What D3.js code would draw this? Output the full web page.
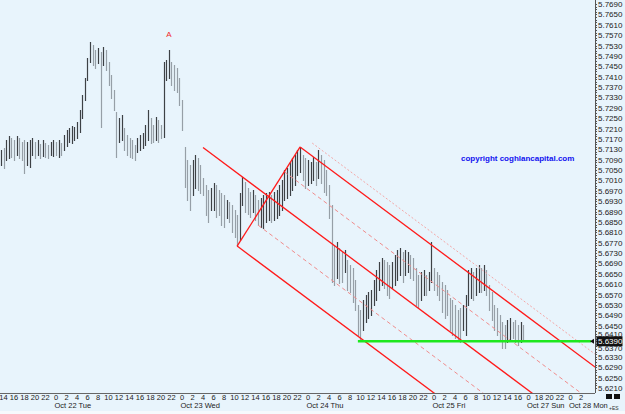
<!DOCTYPE html>
<html>
<head>
<meta charset="utf-8">
<script src="https://cdn.jsdelivr.net/npm/d3@7"></script>
<style>
  body { margin: 0; background: #fff; }
  svg { display: block; font-family: 'Liberation Sans', Arial, sans-serif; }
</style>
</head>
<body>
<svg id="chart" width="625" height="414"></svg>
<script>
'use strict'

// 30 minute bars, hours counted from Oct 21 14:00 (weekend removed)
var firstBarHour = -0.5
var barStep = 0.5

var highs = [
  5.7127, 5.7135, 5.7166, 5.7181, 5.7173, 5.7166, 5.7181, 5.7173, 5.7158, 5.7166,
  5.7158, 5.7166, 5.7173, 5.7158, 5.7166, 5.7150, 5.7166, 5.7154, 5.7146, 5.7158,
  5.7166, 5.7158, 5.7166, 5.7154, 5.7185, 5.7204, 5.7212, 5.7220, 5.7216, 5.7235,
  5.7281, 5.7339, 5.7404, 5.7482, 5.7543, 5.7532, 5.7512, 5.7520, 5.7505, 5.7524,
  5.7512, 5.7466, 5.7416, 5.7358, 5.7273, 5.7250, 5.7262, 5.7212, 5.7185, 5.7173,
  5.7166, 5.7146, 5.7173, 5.7185, 5.7193, 5.7223, 5.7281, 5.7250, 5.7223, 5.7254,
  5.7243, 5.7223, 5.7466, 5.7474, 5.7512, 5.7466, 5.7455, 5.7443, 5.7404, 5.7320,
  5.7139, 5.7089, 5.7069, 5.7089, 5.7108, 5.7096, 5.7069, 5.7019, 5.6992, 5.6973,
  5.6981, 5.7000, 5.6992, 5.6973, 5.6961, 5.6954, 5.6934, 5.6927, 5.6915, 5.6896,
  5.6877, 5.6961, 5.7023, 5.7004, 5.6981, 5.6965, 5.6973, 5.6954, 5.6934, 5.6942,
  5.6954, 5.6961, 5.6965, 5.6954, 5.6965, 5.6973, 5.6992, 5.7011, 5.7050, 5.7058,
  5.7081, 5.7096, 5.7108, 5.7127, 5.7139, 5.7108, 5.7096, 5.7089, 5.7081, 5.7100,
  5.7081, 5.7127, 5.7108, 5.7089, 5.7050, 5.6992, 5.6915, 5.6761, 5.6773, 5.6749,
  5.6734, 5.6742, 5.6703, 5.6684, 5.6672, 5.6626, 5.6530, 5.6511, 5.6549, 5.6568,
  5.6580, 5.6588, 5.6626, 5.6665, 5.6696, 5.6711, 5.6703, 5.6696, 5.6684, 5.6696,
  5.6723, 5.6742, 5.6749, 5.6734, 5.6742, 5.6734, 5.6723, 5.6711, 5.6672, 5.6645,
  5.6657, 5.6665, 5.6645, 5.6657, 5.6773, 5.6672, 5.6657, 5.6645, 5.6618, 5.6607,
  5.6588, 5.6557, 5.6549, 5.6530, 5.6511, 5.6518, 5.6530, 5.6568, 5.6665, 5.6672,
  5.6657, 5.6672, 5.6684, 5.6672, 5.6684, 5.6665, 5.6607, 5.6580, 5.6530, 5.6518,
  5.6491, 5.6464, 5.6453, 5.6472, 5.6480, 5.6464, 5.6472, 5.6453, 5.6464, 5.6453
]

var lows = [
  5.7069, 5.7058, 5.7089, 5.7096, 5.7100, 5.7089, 5.7108, 5.7096, 5.7089, 5.7038,
  5.7069, 5.7062, 5.7108, 5.7096, 5.7108, 5.7096, 5.7104, 5.7100, 5.7096, 5.7108,
  5.7104, 5.7108, 5.7100, 5.7108, 5.7127, 5.7142, 5.7158, 5.7154, 5.7166, 5.7173,
  5.7196, 5.7250, 5.7320, 5.7397, 5.7466, 5.7455, 5.7443, 5.7462, 5.7216, 5.7455,
  5.7435, 5.7378, 5.7327, 5.7281, 5.7100, 5.7158, 5.7166, 5.7127, 5.7108, 5.7100,
  5.7096, 5.7089, 5.7119, 5.7127, 5.7135, 5.7146, 5.7166, 5.7154, 5.7158, 5.7166,
  5.7158, 5.7173, 5.7177, 5.7397, 5.7404, 5.7378, 5.7358, 5.7351, 5.7300, 5.7204,
  5.6985, 5.6934, 5.6896, 5.6954, 5.6981, 5.6973, 5.6961, 5.6954, 5.6877, 5.6850,
  5.6896, 5.6896, 5.6869, 5.6877, 5.6838, 5.6830, 5.6865, 5.6850, 5.6811, 5.6792,
  5.6757, 5.6780, 5.6915, 5.6888, 5.6880, 5.6869, 5.6888, 5.6857, 5.6838, 5.6830,
  5.6827, 5.6850, 5.6857, 5.6850, 5.6857, 5.6865, 5.6877, 5.6896, 5.6934, 5.6942,
  5.6954, 5.6973, 5.6992, 5.7031, 5.7042, 5.7011, 5.6981, 5.6992, 5.7000, 5.7011,
  5.6992, 5.7019, 5.7000, 5.6965, 5.6954, 5.6865, 5.6618, 5.6607, 5.6634, 5.6615,
  5.6618, 5.6657, 5.6588, 5.6580, 5.6541, 5.6511, 5.6414, 5.6395, 5.6434, 5.6464,
  5.6480, 5.6491, 5.6530, 5.6549, 5.6588, 5.6607, 5.6595, 5.6568, 5.6557, 5.6595,
  5.6607, 5.6626, 5.6645, 5.6618, 5.6645, 5.6657, 5.6634, 5.6626, 5.6530, 5.6518,
  5.6549, 5.6568, 5.6568, 5.6588, 5.6618, 5.6588, 5.6568, 5.6549, 5.6503, 5.6480,
  5.6491, 5.6434, 5.6414, 5.6403, 5.6395, 5.6387, 5.6434, 5.6414, 5.6530, 5.6557,
  5.6549, 5.6568, 5.6580, 5.6580, 5.6588, 5.6568, 5.6511, 5.6472, 5.6434, 5.6414,
  5.6395, 5.6364, 5.6364, 5.6387, 5.6395, 5.6403, 5.6387, 5.6376, 5.6387, 5.6395
]

// x axis: hour ticks every 2h, weekend compressed after Fri 16:00
var weekendHours = [100, 102, 104, 106, 108, 110]
var weekendLabels = ['0', '18', '20', '22', '0', '2']
var dayLabels = ['Oct 22 Tue', 'Oct 23 Wed', 'Oct 24 Thu', 'Oct 25 Fri', 'Oct 27 Sun', 'Oct 28 Mon']
var dayHours = [10, 34, 58, 82, 100, 108]

// y axis labels
var priceMin = 5.6210
var priceMax = 5.7690
var priceStep = 0.004
var lastPrice = 5.6390

// pitchfork anchors: [hour, price]
var pivotLow = [44.5, 5.6757]
var pivotHigh = [56.5, 5.7139]
var forkSlope = -0.00151 // price per hour
var medianStart = 38
var upperQuarterStart = 53.5
var lowerQuarterStart = 48.5
var outerPoint = [58.8, 5.7154]
var supportStart = 67.5
var markA = 64 // bar index of the "A" label

var width = 625
var height = 414
var plotRight = 595
var plotBottom = 393

var svg = d3.select('#chart')

var x = d3.scaleLinear().domain([0, 110]).range([3.5, 581])
var y = d3.scaleLinear().domain([priceMin, priceMax]).range([388, 4])

svg.append('rect')
  .attr('width', width)
  .attr('height', height)
  .attr('fill', '#e8f4fc')

svg.append('rect')
  .attr('y', 411)
  .attr('width', width)
  .attr('height', 3)
  .attr('fill', '#f6fafd')

svg.append('defs').append('clipPath')
  .attr('id', 'plot')
  .append('rect')
    .attr('width', plotRight)
    .attr('height', plotBottom)

// bars
var bars = highs.map((h, i) => ({
  t: firstBarHour + i * barStep,
  hi: h,
  lo: lows[i]
}))
bars.forEach((d, i) => {
  var prev = bars[i - 1] || d
  d.up = (d.hi + d.lo) >= (prev.hi + prev.lo)
})

svg.append('g')
  .attr('class', 'bars')
  .selectAll('line')
  .data(bars)
  .enter().append('line')
    .attr('x1', (d) => Math.round(x(d.t)) + 0.5)
    .attr('x2', (d) => Math.round(x(d.t)) + 0.5)
    .attr('y1', (d) => Math.round(y(d.hi)))
    .attr('y2', (d) => Math.round(y(d.lo)) + 1)
    .attr('stroke', (d) => d.up ? '#3d4145' : '#969fa7')
    .attr('stroke-width', 1.2)

// pitchfork
function linePrice (anchor, t) {
  return anchor[1] + forkSlope * (t - anchor[0])
}
var endHour = 114
var upper = (t) => linePrice(pivotHigh, t)
var lower = (t) => linePrice(pivotLow, t)
var median = (t) => (upper(t) + lower(t)) / 2
var forkLines = [
  { f: upper, from: pivotHigh[0], color: '#ff1a1a', dash: null, w: 1.3 },
  { f: median, from: medianStart, color: '#ff1a1a', dash: null, w: 1.3 },
  { f: lower, from: pivotLow[0], color: '#ff1a1a', dash: null, w: 1.3 },
  { f: (t) => (upper(t) + median(t)) / 2, from: upperQuarterStart, color: '#f08c8c', dash: '4,3', w: 1 },
  { f: (t) => (median(t) + lower(t)) / 2, from: lowerQuarterStart, color: '#f08c8c', dash: '4,3', w: 1 },
  { f: (t) => linePrice(outerPoint, t), from: outerPoint[0], color: '#f4a8a8', dash: '2,2', w: 1 }
]

var fork = svg.append('g')
  .attr('class', 'fork')
  .attr('clip-path', 'url(#plot)')

fork.selectAll('line.fl')
  .data(forkLines)
  .enter().append('line')
    .attr('class', 'fl')
    .attr('x1', (d) => x(d.from))
    .attr('y1', (d) => y(d.f(d.from)))
    .attr('x2', x(endHour))
    .attr('y2', (d) => y(d.f(endHour)))
    .attr('stroke', (d) => d.color)
    .attr('stroke-width', (d) => d.w)
    .attr('stroke-dasharray', (d) => d.dash)

fork.append('line')
  .attr('x1', x(pivotLow[0]))
  .attr('y1', y(pivotLow[1]))
  .attr('x2', x(pivotHigh[0]))
  .attr('y2', y(pivotHigh[1]))
  .attr('stroke', '#ff1a1a')
  .attr('stroke-width', 1.3)

// support line
svg.append('line')
  .attr('x1', x(supportStart))
  .attr('x2', plotRight - 4)
  .attr('y1', y(lastPrice))
  .attr('y2', y(lastPrice))
  .attr('stroke', '#1ee81e')
  .attr('stroke-width', 2.5)

// "A" label
svg.append('text')
  .attr('x', x(bars[markA].t))
  .attr('y', y(bars[markA].hi) - 13)
  .attr('text-anchor', 'middle')
  .attr('fill', '#f02828')
  .attr('font-size', 8)
  .text('A')

svg.append('text')
  .attr('x', 461)
  .attr('y', 161)
  .attr('fill', '#1010f0')
  .attr('font-size', 8)
  .attr('font-weight', 'bold')
  .text('copyright coghlancapital.com')

// right axis
var yTicks = d3.range(0, Math.round((priceMax - priceMin) / priceStep) + 1)
  .map((k) => priceMin + k * priceStep)
var yMinor = d3.range(0, Math.round((priceMax - priceMin) / 0.001) + 1)
  .map((k) => priceMin + k * 0.001)

var py = y(lastPrice)

var yAxis = svg.append('g').attr('class', 'y-axis')
yAxis.append('line')
  .attr('x1', plotRight + 0.5)
  .attr('x2', plotRight + 0.5)
  .attr('y1', 0)
  .attr('y2', plotBottom)
  .attr('stroke', '#555')
yAxis.selectAll('line.minor')
  .data(yMinor)
  .enter().append('line')
    .attr('class', 'minor')
    .attr('x1', plotRight)
    .attr('x2', plotRight + 2)
    .attr('y1', (d) => Math.round(y(d)) + 0.5)
    .attr('y2', (d) => Math.round(y(d)) + 0.5)
    .attr('stroke', '#555')
// labels next to the last price box sit partly behind it
yAxis.selectAll('text')
  .data(yTicks)
  .enter().append('text')
    .attr('x', plotRight + 3)
    .attr('y', (d) => {
      var ty = y(d) + 3
      if (Math.abs(y(d) - py) < 8) ty += (y(d) < py ? -2 : 2)
      return ty
    })
    .attr('font-size', 8)
    .attr('fill', '#222')
    .text((d) => d.toFixed(4))

// last price marker
yAxis.append('path')
  .attr('d', `M${plotRight - 5},${py}l4,-2.5v5z`)
  .attr('fill', '#111')
yAxis.append('rect')
  .attr('x', plotRight + 1.5)
  .attr('y', py - 5)
  .attr('width', 26)
  .attr('height', 10)
  .attr('fill', '#111')
yAxis.append('text')
  .attr('x', plotRight + 3)
  .attr('y', py + 3)
  .attr('font-size', 8)
  .attr('fill', '#fff')
  .text(lastPrice.toFixed(4))

// bottom axis
var tickHours = d3.range(0, 99, 2).concat(weekendHours)
var tickLabels = tickHours.map((h) => {
  if (h >= 100) return weekendLabels[weekendHours.indexOf(h)]
  return String((14 + h) % 24)
})

var xAxis = svg.append('g').attr('class', 'x-axis')
xAxis.append('line')
  .attr('x1', 0)
  .attr('x2', plotRight)
  .attr('y1', plotBottom + 0.5)
  .attr('y2', plotBottom + 0.5)
  .attr('stroke', '#666')
xAxis.selectAll('text.hr')
  .data(tickHours)
  .enter().append('text')
    .attr('class', 'hr')
    .attr('x', (d) => x(d))
    .attr('y', 400)
    .attr('text-anchor', 'middle')
    .attr('font-size', 7.5)
    .attr('fill', '#222')
    .text((d, i) => tickLabels[i])
xAxis.selectAll('text.day')
  .data(dayHours)
  .enter().append('text')
    .attr('class', 'day')
    .attr('x', (d) => x(d) - 1.5)
    .attr('y', 408)
    .attr('font-size', 7.5)
    .attr('fill', '#222')
    .text((d, i) => dayLabels[i])

// corner glyphs
svg.append('rect').attr('x', 606).attr('y', 394).attr('width', 6).attr('height', 5).attr('fill', '#111')
svg.append('rect').attr('x', 614).attr('y', 394).attr('width', 6).attr('height', 5).attr('fill', '#111')
svg.append('text')
  .attr('x', 609)
  .attr('y', 410)
  .attr('font-size', 5)
  .attr('fill', '#333')
  .text('+ES')
</script>
</body>
</html>
